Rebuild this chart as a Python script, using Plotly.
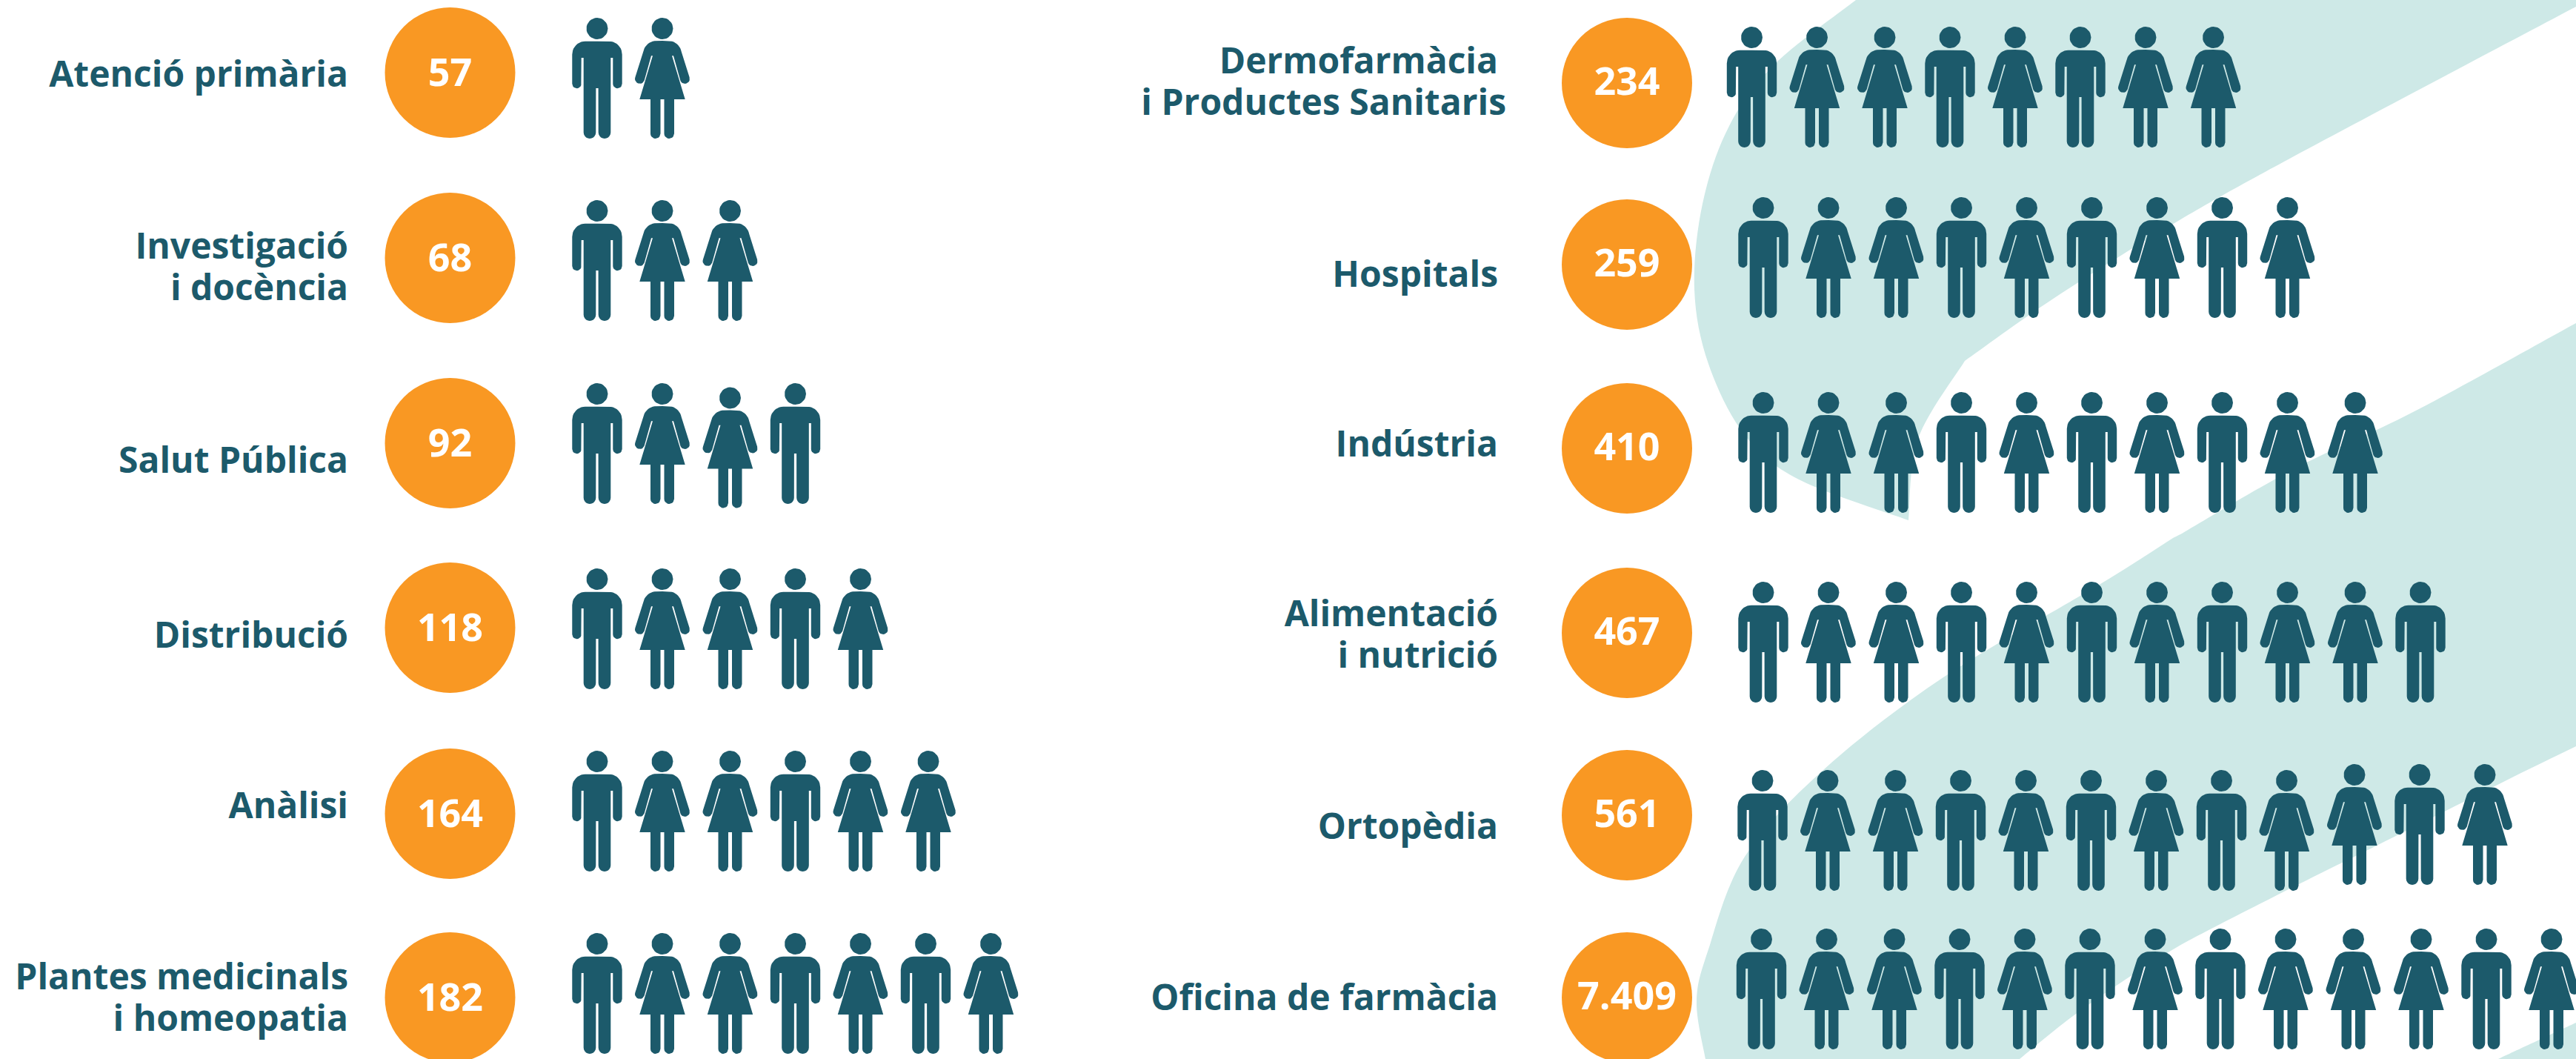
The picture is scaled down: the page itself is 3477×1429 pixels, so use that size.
import math
import plotly.graph_objects as go

# ---------- data ----------
left_labels = ["Atenció primària", "Investigació\ni docència", "Salut Pública", "Distribució", "Anàlisi",
               "Plantes medicinals\ni homeopatia"]
left_values = ["57", "68", "92", "118", "164", "182"]
left_people = ["MF", "MFF", "MFFM", "MFFMF", "MFFMFF", "MFFMFMF"]

right_labels = ["Dermofarmàcia\ni Productes Sanitaris", "Hospitals", "Indústria", "Alimentació\ni nutrició",
                "Ortopèdia", "Oficina de farmàcia"]
right_values = ["234", "259", "410", "467", "561", "7.409"]
right_people = ["MFFMFMFF", "MFFMFMFMF", "MFFMFMFMFF", "MFFMFMFMFFM", "MFFMFMFMFFMF", "MFFMFMFMFFFMF"]

# ---------- layout helpers ----------
W, H = 3477, 1429
TEAL, ORANGE, PALE = "#1c5a6b", "#f99823", "#cee9e7"
FONT = "Open Sans"

left_circle_y = [98, 348, 598, 847, 1098, 1346]
right_circle_y = [112, 357, 605, 854, 1100, 1346]
left_label_y = [105, 365, 626, 862, 1092, 1351]
right_label_y = [115, 375, 604, 861, 1120, 1351]
left_top = [24, 270, 517, 767, 1013, 1259]
right_top = [36, 266, 529, 785, 1039, 1253]
right_start = [2364.5, 2380, 2380, 2380, 2379, 2377.5]
# (row, index) -> vertical nudge of figures that sit off their row in the original
left_nudge = {(2, 2): 5.5}
right_nudge = {(4, 9): -8, (4, 10): -8, (4, 11): -8}


def arc(cx, cy, r, a0, a1, n=10):
    return [(cx + r * math.cos(math.radians(a0 + (a1 - a0) * i / n)),
             cy + r * math.sin(math.radians(a0 + (a1 - a0) * i / n))) for i in range(n + 1)]


def half_man():
    return ([(0, 31.7), (16, 31.7)] + arc(16, 49.4, 17.7, -90, 0) + [(33.7, 89)] + arc(27.5, 89, 6.2, 0, 180)
            + [(21.3, 54), (18.3, 54)] + arc(10, 154.7, 8.3, 0, 180) + [(1.6, 95), (0, 95)])


def half_woman():
    return ([(0, 31), (8, 31)] + arc(8, 49, 18, -90, -10) + arc(30.5, 82.5, 6.5, -20, 160)
            + [(15, 51.3), (13, 51.3), (30.7, 110), (16, 110)] + arc(9.25, 156.3, 6.75, 0, 180)
            + [(2.5, 110), (0, 110)])


MAN = half_man()
WOMAN = half_woman()
HEAD = arc(0, 14.5, 14.5, 0, 360, 32)


def add_person(xs, ys, cx, top, kind):
    half = MAN if kind == "M" else WOMAN
    body = half + [(-a, b) for a, b in reversed(half)]
    for poly in (HEAD, body):
        xs.extend(cx + a for a, _ in poly)
        ys.extend(top + b for _, b in poly)
        xs.append(None)
        ys.append(None)


def row_positions(start, people):
    out = [start]
    for a, b in zip(people, people[1:]):
        out.append(out[-1] + (91.5 if a == b == "F" else 88))
    return out


def smooth(points):
    """Catmull-Rom through decorative edge points, as SVG bezier segments."""
    d = ""
    for i in range(len(points) - 1):
        p0 = points[max(i - 1, 0)]
        p1, p2 = points[i], points[i + 1]
        p3 = points[min(i + 2, len(points) - 1)]
        c1 = (p1[0] + (p2[0] - p0[0]) / 6, p1[1] + (p2[1] - p0[1]) / 6)
        c2 = (p2[0] - (p3[0] - p1[0]) / 6, p2[1] - (p3[1] - p1[1]) / 6)
        d += f" C {c1[0]:.1f},{c1[1]:.1f} {c2[0]:.1f},{c2[1]:.1f} {p2[0]:.1f},{p2[1]:.1f}"
    return d


def ribbon(edges):
    d = f"M {edges[0][0][0]},{edges[0][0][1]}"
    for e in edges:
        d += f" L {e[0][0]},{e[0][1]}" + smooth(e)
    return d + " Z"


ribbon_a = ribbon([
    [(2505, 0), (2395, 87), (2334, 170), (2298, 275), (2287, 390), (2306, 491), (2355, 587), (2428, 647), (2576, 702)],
    [(2576, 702), (2589, 592), (2652, 487)],
    [(2652, 487), (2770, 404), (2925, 307), (3096, 211), (3477, 9)],
    [(3477, 9), (3477, 0)],
])
ribbon_b = ribbon([
    [(3477, 436), (3259, 555), (3096, 633), (2945, 720)],
    [(2945, 720), (2933, 726)],
    [(2933, 726), (2835, 788), (2623, 914), (2461, 1039), (2355, 1156), (2306, 1281), (2290, 1351), (2302, 1429)],
    [(2302, 1429), (2726, 1429)],
    [(2726, 1429), (2790, 1377), (2852, 1333), (2930, 1283), (2991, 1250), (3103, 1193), (3210, 1140), (3383, 1053),
     (3477, 1007)],
])
ribbon_c = ribbon([[(3477, 1380), (3372, 1429)], [(3372, 1429), (3477, 1429)]])

# ---------- figure ----------
fig = go.Figure()
shapes = [dict(type="path", path=p, fillcolor=PALE, line_width=0, layer="below", xref="x", yref="y")
          for p in (ribbon_a, ribbon_b, ribbon_c)]

px, py = [], []
for tops, people, starts, nudge in ((left_top, left_people, [806] * 6, left_nudge),
                                    (right_top, right_people, right_start, right_nudge)):
    for r, (top, ppl, start) in enumerate(zip(tops, people, starts)):
        for k, (cx, kind) in enumerate(zip(row_positions(start, ppl), ppl)):
            add_person(px, py, cx, top + nudge.get((r, k), 0), kind)
fig.add_trace(go.Scatter(x=px, y=py, mode="lines", fill="toself", fillcolor=TEAL, line=dict(width=0, color=TEAL),
                         hoverinfo="skip", showlegend=False))

cx_all = [607.5] * 6 + [2196] * 6
cy_all = left_circle_y + right_circle_y
fig.add_trace(go.Scatter(x=cx_all, y=cy_all, mode="markers",
                         marker=dict(size=176, color=ORANGE, line_width=0),
                         hoverinfo="skip", showlegend=False))
fig.add_trace(go.Scatter(x=cx_all, y=[v + 5 for v in cy_all[:6]] + [v + 3 for v in cy_all[6:]], mode="text",
                         text=left_values + right_values, textposition="middle center",
                         textfont=dict(family=FONT, size=52, color="white", weight=700),
                         hoverinfo="skip", showlegend=False))

lx, ly, lt = [], [], []
for labels, ys, xr in ((left_labels, left_label_y, 470), (right_labels, right_label_y, 2022)):
    for lab, yc in zip(labels, ys):
        lines = lab.split("\n")
        for i, line in enumerate(lines):
            lx.append(xr + (11 if line.startswith("i Prod") else 0))
            ly.append(yc + (i - (len(lines) - 1) / 2) * 55.5)
            lt.append(line)
fig.add_trace(go.Scatter(x=lx, y=ly, mode="text", text=lt, textposition="middle left",
                         textfont=dict(family=FONT, size=48, color=TEAL, weight=700),
                         hoverinfo="skip", showlegend=False))

fig.update_layout(width=W, height=H, margin=dict(l=0, r=0, t=0, b=0), paper_bgcolor="white", plot_bgcolor="white",
                  shapes=shapes,
                  xaxis=dict(range=[0, W], visible=False, fixedrange=True),
                  yaxis=dict(range=[H, 0], visible=False, fixedrange=True))
fig.write_html("out.html", config=dict(displayModeBar=False),
               post_script="document.body.style.margin='0';document.body.style.overflow='hidden';")
